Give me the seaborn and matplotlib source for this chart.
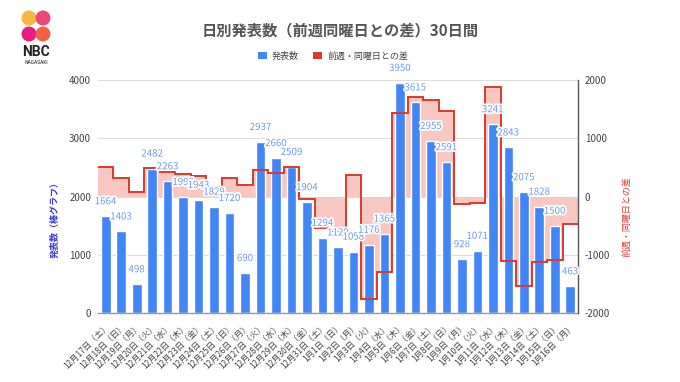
import matplotlib
matplotlib.use("Agg")
import matplotlib.pyplot as plt
import matplotlib.patheffects as pe
from matplotlib.patches import Patch, Circle
import numpy as np
import pandas as pd
import seaborn as sns

# ---------------- data ----------------
dates = ["12月17日（土）", "12月18日（日）", "12月19日（月）", "12月20日（火）", "12月21日（水）",
         "12月22日（木）", "12月23日（金）", "12月24日（土）", "12月25日（日）", "12月26日（月）",
         "12月27日（火）", "12月28日（水）", "12月29日（木）", "12月30日（金）", "12月31日（土）",
         "1月1日（日）", "1月2日（月）", "1月3日（火）", "1月4日（水）", "1月5日（木）",
         "1月6日（金）", "1月7日（土）", "1月8日（日）", "1月9日（月）", "1月10日（火）",
         "1月11日（水）", "1月12日（木）", "1月13日（金）", "1月14日（土）", "1月15日（日）",
         "1月16日（月）"]
counts = [1664, 1403, 498, 2482, 2263, 1995, 1943, 1829, 1720, 690,
          2937, 2660, 2509, 1904, 1294, 1129, 1058, 1176, 1365, 3950,
          3615, 2955, 2591, 928, 1071, 3241, 2843, 2075, 1828, 1500, 463]
diffs = [504, 315, 86, 487, 430, 390, 355, 165, 317, 192,
         455, 397, 514, -39, -535, -591, 368, -1761, -1295, 1441,
         1711, 1661, 1462, -130, -105, 1876, -1107, -1540, -1127, -1091, -465]
left_ticks = [0, 1000, 2000, 3000, 4000]
right_ticks = [-2000, -1000, 0, 1000, 2000]

title = "日別発表数（前週同曜日との差）30日間"
bar_name = "発表数"
diff_name = "前週・同曜日との差"
left_label = "発表数（棒グラフ）"

BLUE = "#4285f4"
RED = "#db3a2e"
FILL = "#f9c7c2"
LABEL = "#6b9bec"
TXT = "#444444"

sns.set_theme(style="white")
plt.rcParams["font.family"] = ["Noto Sans CJK JP", "DejaVu Sans"]

W, H = 680, 382
fig = plt.figure(figsize=(W / 100, H / 100), dpi=100)
rect = [98 / W, 1 - 313.3 / H, (578 - 98) / W, (313.3 - 80) / H]

ax_fill = fig.add_axes(rect)
ax = ax_fill.twinx()
ax2 = ax_fill.twinx()
ax_fill.set_zorder(0)
ax.set_zorder(1)
ax2.set_zorder(2)
ax.patch.set_visible(False)
ax2.patch.set_visible(False)
ax.xaxis.set_visible(True)

df = pd.DataFrame({"date": dates, "count": counts})
sns.barplot(data=df, x="date", y="count", color=BLUE, saturation=1,
            width=0.62, ax=ax)

edges = np.arange(len(diffs) + 1) - 0.5
ax_fill.stairs(diffs, edges, baseline=0, fill=True, color=FILL, linewidth=0)
ax2.stairs(diffs, edges, baseline=None, color=RED, linewidth=1.4)

for a in (ax_fill, ax, ax2):
    a.set_xlim(-0.5, len(dates) - 0.5)
ax.set_ylim(0, 4000)
ax_fill.set_ylim(-2000, 2000)
ax2.set_ylim(-2000, 2000)

# grid on bottom axes
ax_fill.set_yticks(right_ticks)
ax_fill.yaxis.grid(True, color="#dddddd", linewidth=0.8)
ax_fill.xaxis.grid(False)
ax_fill.tick_params(left=False, right=False, labelleft=False, labelright=False,
                    bottom=False, labelbottom=False)
for s in ax_fill.spines.values():
    s.set_visible(False)

# left axis
ax.yaxis.set_label_position("left")
ax.yaxis.tick_left()
ax.set_yticks(left_ticks)
ax.set_yticklabels([str(t) for t in left_ticks], fontsize=7, color=TXT)
ax.tick_params(axis="y", length=0, pad=5)
ax.set_xticks(range(len(dates)))
ax.set_xticklabels(dates, rotation=45, ha="right", rotation_mode="anchor",
                   fontsize=6, color=TXT)
ax.tick_params(axis="x", bottom=True, labelbottom=True, length=0, pad=6)
ax.set_xlabel("")
ax.set_ylabel("")
ax.grid(False)
for k, s in ax.spines.items():
    s.set_visible(k == "bottom")
ax.spines["bottom"].set_color("#999999")
ax.spines["bottom"].set_linewidth(1.0)

# right axis
ax2.set_yticks(right_ticks)
ax2.set_yticklabels([str(t) for t in right_ticks], fontsize=7, color=TXT)
ax2.tick_params(axis="y", length=0, pad=5)
ax2.tick_params(axis="x", bottom=False, labelbottom=False)
ax2.grid(False)
for k, s in ax2.spines.items():
    s.set_visible(k == "right")
ax2.spines["right"].set_color("#555555")
ax2.spines["right"].set_linewidth(1.0)

# value labels
for i, c in enumerate(counts):
    ax2.annotate(str(c), xy=(i, c), xycoords=ax.transData, xytext=(0, 15),
                 textcoords="offset pixels", ha="center", va="center",
                 fontsize=7, color=LABEL, annotation_clip=False,
                 path_effects=[pe.withStroke(linewidth=2.5, foreground="white")])

# titles and axis names
fig.text(0.5, 1 - 30 / H, title, ha="center", va="center", fontsize=11,
         color="#555555", fontweight="bold")
fig.text(55 / W, 1 - 217 / H, left_label, rotation=90, ha="center", va="center",
         fontsize=6.5, color="#3a3ad6", fontweight="bold")
fig.text(627 / W, 1 - 217 / H, diff_name, rotation=90, ha="center", va="center",
         fontsize=6.5, color="#e53935")

handles = [Patch(facecolor=BLUE, edgecolor="none"), Patch(facecolor=RED, edgecolor="none")]
fig.legend(handles, [bar_name, diff_name], loc="center", bbox_to_anchor=(0.49, 1 - 56 / H),
           ncol=2, frameon=False, fontsize=6.5, handlelength=0.9, handleheight=0.9,
           columnspacing=1.6, handletextpad=0.6, labelcolor=TXT)

# logo
lax = fig.add_axes([20 / W, 1 - 44 / H, 32 / W, 36 / H])
lax.set_xlim(0, 32)
lax.set_ylim(0, 36)
lax.set_aspect("equal")
lax.axis("off")
for (cx, cy, col) in [(9, 26, "#f9b233"), (23, 26, "#ea3e70"),
                      (9, 10, "#e2147a"), (23, 10, "#f15a3a")]:
    lax.add_patch(Circle((cx, cy), 7.5, color=col, alpha=0.95, linewidth=0))
fig.text(36 / W, 1 - 52 / H, "NBC", ha="center", va="center", fontsize=10,
         fontweight="bold", color="#222222", family=["Roboto", "DejaVu Sans"])
fig.text(36 / W, 1 - 62 / H, "NAGASAKI", ha="center", va="center", fontsize=3.5,
         color="#222222", family=["Roboto", "DejaVu Sans"])

fig.savefig("out.png", dpi=100)
